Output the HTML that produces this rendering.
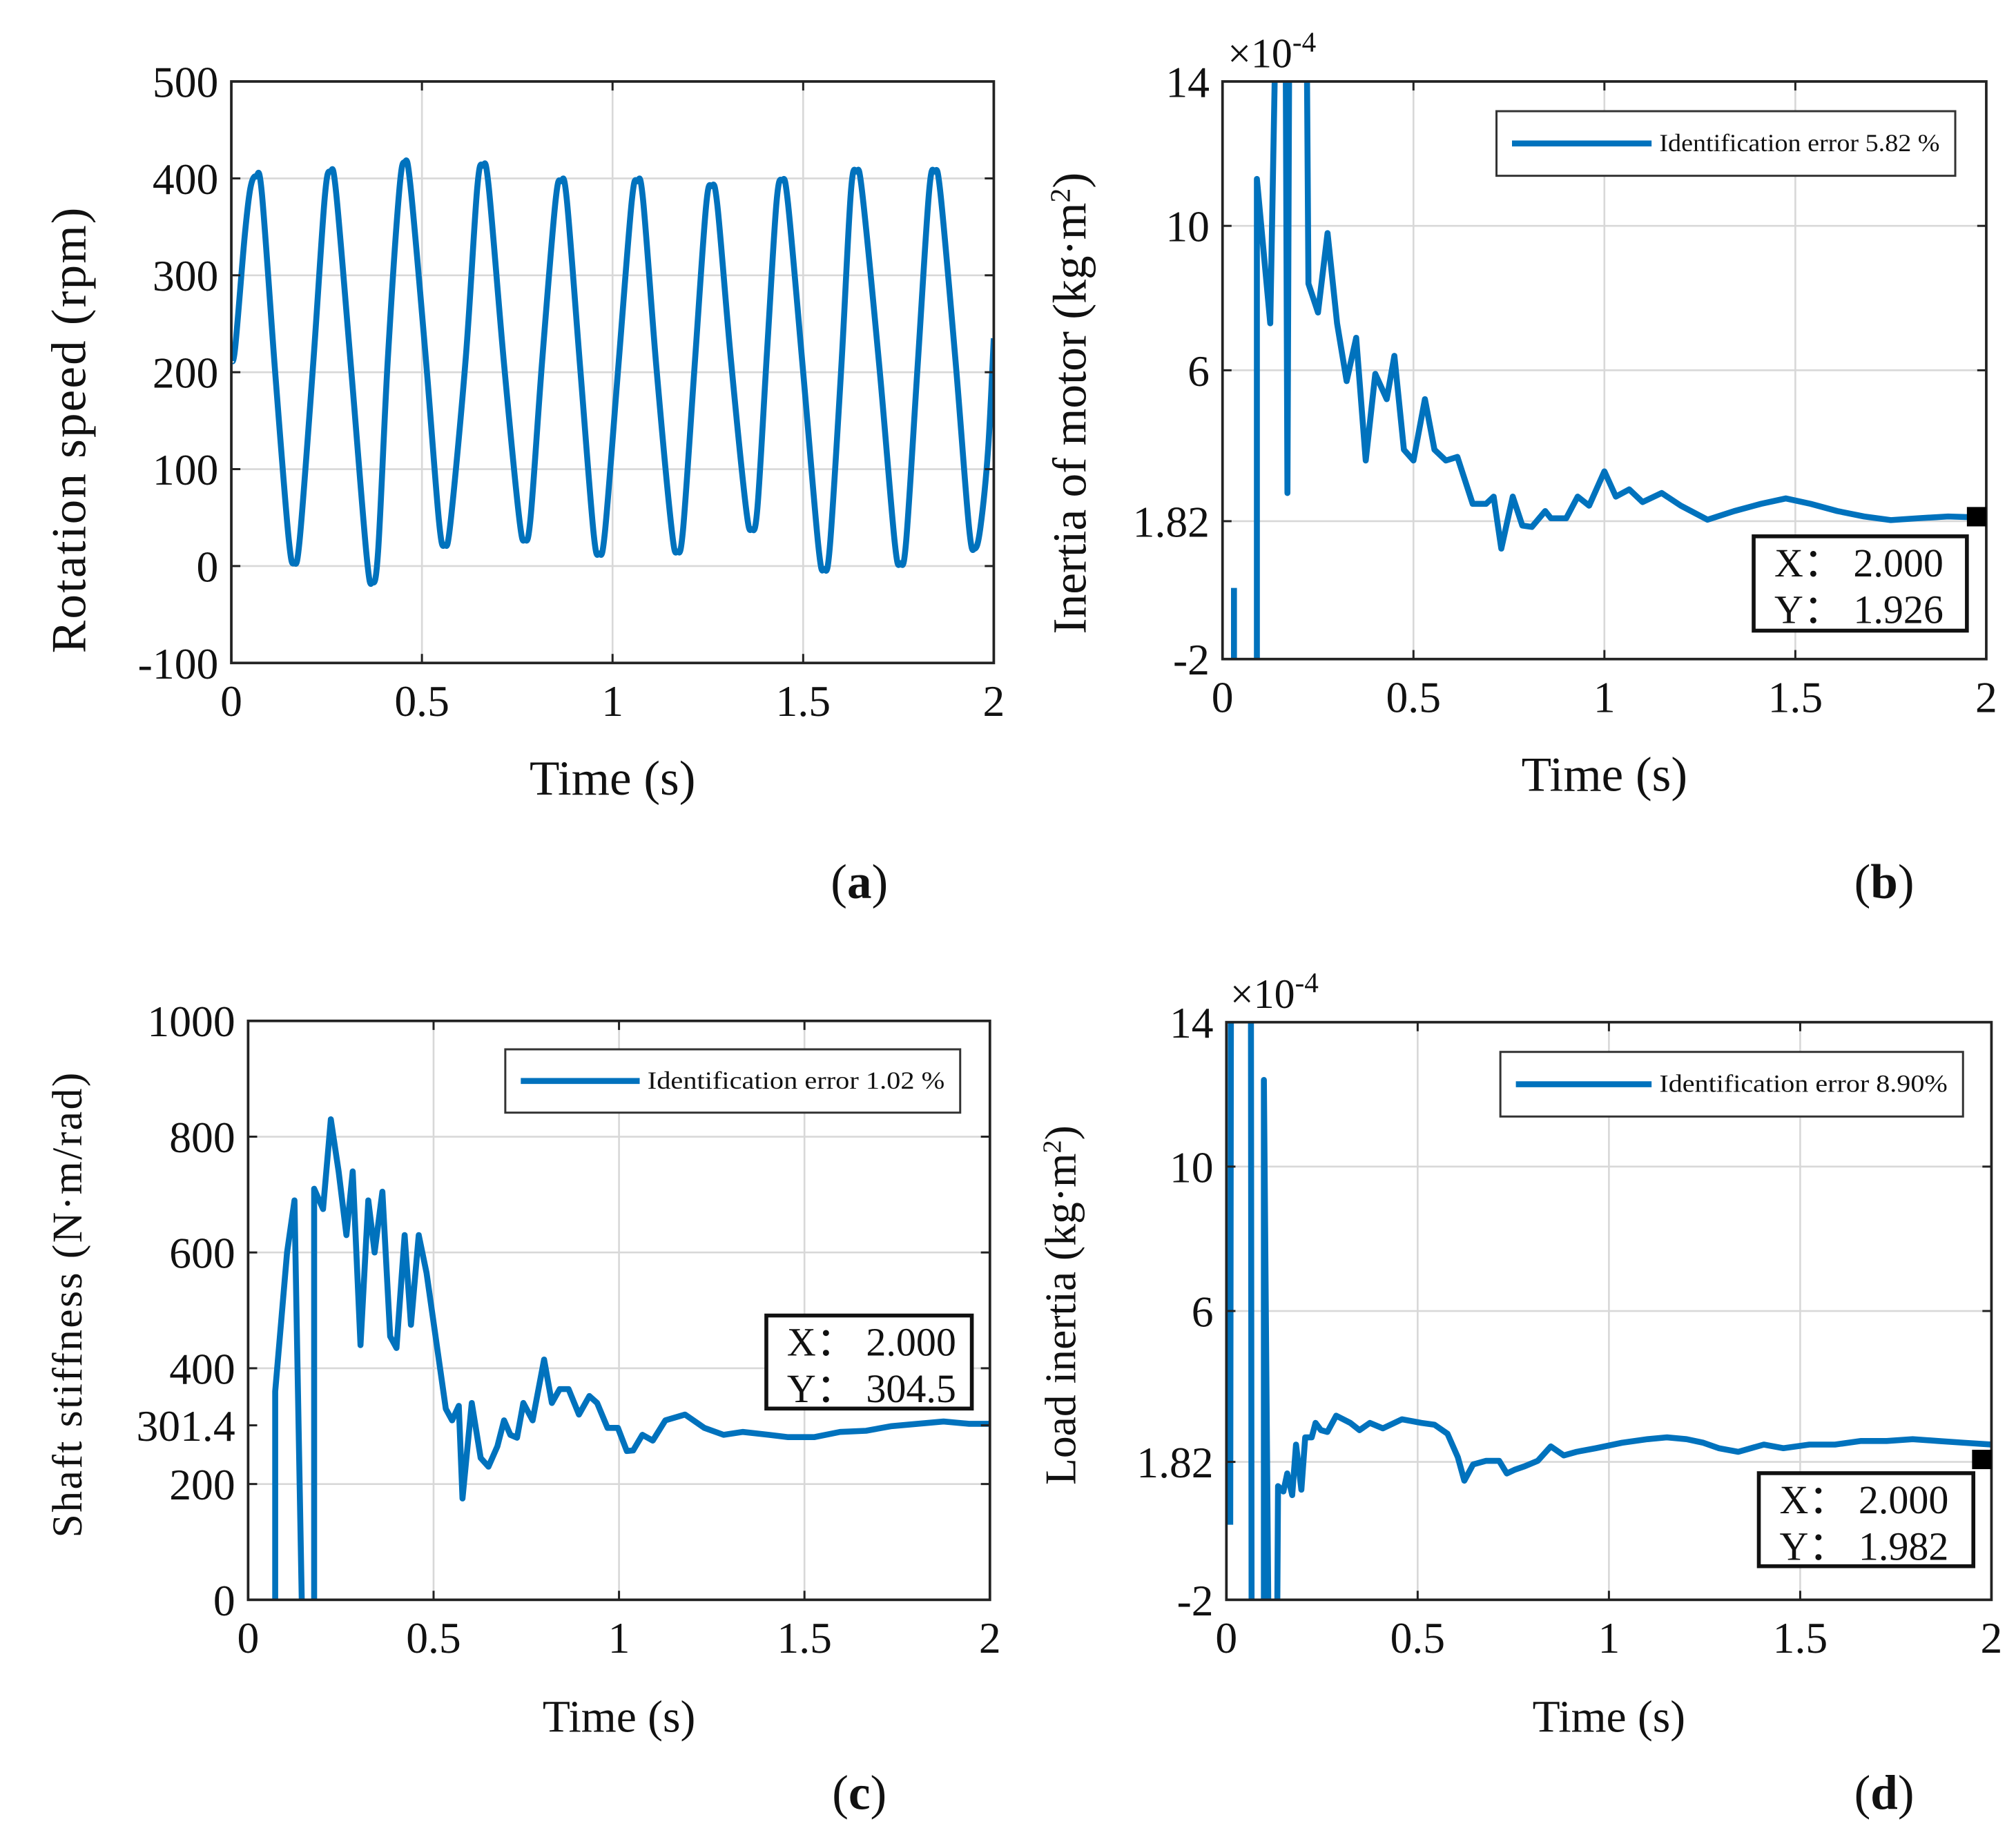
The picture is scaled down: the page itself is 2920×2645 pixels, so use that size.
<!DOCTYPE html>
<html><head><meta charset="utf-8"><style>
html,body{margin:0;padding:0;background:#fff}
svg{display:block}
text{font-family:"Liberation Serif",serif;fill:#111}
</style></head><body>
<svg id="fig" width="2920" height="2645" viewBox="0 0 1560 1413" xmlns="http://www.w3.org/2000/svg"></svg>
<script>
// ---- Panel (a) data ----
const aTime=[0,0.01,0.035,0.05,0.065,0.08,0.115,0.15,0.165,0.18,0.215,0.245,0.26,0.275,0.315,0.355,0.37,0.385,0.41,0.44,0.455,0.47,0.51,0.545,0.56,0.575,0.615,0.645,0.66,0.675,0.715,0.755,0.77,0.785,0.815,0.85,0.865,0.88,0.915,0.95,0.965,0.98,1.015,1.05,1.065,1.08,1.115,1.155,1.17,1.185,1.215,1.245,1.26,1.275,1.31,1.35,1.365,1.38,1.405,1.43,1.445,1.46,1.5,1.54,1.555,1.57,1.6,1.625,1.64,1.655,1.7,1.74,1.755,1.77,1.8,1.83,1.845,1.86,1.9,1.935,1.95,1.965,1.985,2.0];
const aSpeed=[212,225,340,390,402,385,200,30,3,30,210,380,407,385,200,10,-17,15,210,385,417,392,215,45,22,45,215,390,413,392,210,50,27,50,210,375,397,378,205,35,13,35,205,375,397,378,205,38,15,38,205,370,392,372,215,60,38,60,220,375,398,375,200,20,-3,20,205,385,407,385,205,25,3,25,205,385,407,385,210,40,18,40,120,235];
// ---- Panel (b) data ----
const bTime=[0.03,0.03,0.09,0.09,0.125,0.14,0.165,0.17,0.175,0.22,0.225,0.25,0.275,0.3,0.325,0.35,0.375,0.4,0.43,0.45,0.475,0.5,0.53,0.555,0.585,0.615,0.655,0.69,0.71,0.73,0.76,0.785,0.81,0.845,0.86,0.9,0.93,0.96,1.0,1.03,1.065,1.1,1.15,1.2,1.27,1.34,1.41,1.475,1.54,1.61,1.68,1.75,1.82,1.9,1.96,2.0];
const bInertia=[-0.03,-4,-4,11.3,7.3,16,16,2.6,16,16,8.4,7.6,9.8,7.3,5.7,6.9,3.5,5.9,5.2,6.4,3.8,3.5,5.2,3.8,3.5,3.6,2.3,2.3,2.5,1.06,2.5,1.7,1.66,2.1,1.9,1.9,2.5,2.25,3.2,2.5,2.7,2.35,2.6,2.25,1.86,2.1,2.3,2.45,2.3,2.1,1.95,1.85,1.9,1.95,1.93,2.0];
// ---- Panel (c) data ----
const cTime=[0.073,0.073,0.105,0.125,0.146,0.167,0.178,0.178,0.202,0.223,0.244,0.265,0.282,0.303,0.324,0.341,0.362,0.383,0.4,0.422,0.439,0.46,0.481,0.533,0.55,0.568,0.578,0.603,0.627,0.648,0.672,0.69,0.707,0.725,0.742,0.767,0.798,0.819,0.84,0.864,0.892,0.92,0.941,0.969,0.997,1.021,1.038,1.063,1.091,1.125,1.178,1.23,1.282,1.334,1.404,1.456,1.526,1.596,1.666,1.735,1.805,1.875,1.944,2.0];
const cStiff=[-50,360,600,690,-50,-50,-50,710,675,830,740,630,740,440,690,600,705,455,435,630,475,630,565,330,310,335,175,340,245,230,265,310,285,280,340,310,415,340,364,364,320,352,340,297,297,257,258,285,275,310,320,297,285,290,285,281,281,290,292,300,304,308,304,304];
// ---- Panel (d) data ----
const dTime=[0.01,0.012,0.064,0.066,0.098,0.098,0.111,0.132,0.135,0.149,0.159,0.172,0.182,0.196,0.206,0.223,0.233,0.247,0.264,0.287,0.324,0.348,0.375,0.409,0.459,0.51,0.544,0.578,0.605,0.622,0.645,0.679,0.713,0.733,0.753,0.78,0.814,0.848,0.882,0.916,0.966,1.034,1.101,1.152,1.203,1.247,1.287,1.338,1.405,1.456,1.524,1.591,1.659,1.726,1.794,1.861,1.929,2.0];
const dInertia=[0.08,16,16,-4,-4,12.4,-4,-4,1.15,1.0,1.5,0.9,2.3,1.05,2.5,2.5,2.9,2.7,2.65,3.1,2.9,2.7,2.9,2.75,3.0,2.9,2.85,2.6,1.95,1.3,1.75,1.85,1.85,1.5,1.6,1.7,1.85,2.25,2.0,2.1,2.2,2.35,2.45,2.5,2.45,2.35,2.2,2.1,2.3,2.2,2.3,2.3,2.4,2.4,2.45,2.4,2.35,2.3];
// ticks
const xTicks=[0,0.5,1,1.5,2];
const xTickLabels=["0","0.5","1","1.5","2"];
const aYTicks=[-100,0,100,200,300,400,500];
const aYTickLabels=["-100","0","100","200","300","400","500"];
const bdYTicks=[-2,1.82,6,10,14];
const bdYTickLabels=["-2","1.82","6","10","14"];
const cYTicks=[0,200,301.4,400,600,800,1000];
const cYTickLabels=["0","200","301.4","400","600","800","1000"];
const cGrid=[0,200,400,600,800,1000];

const NS="http://www.w3.org/2000/svg";
const svg=document.getElementById('fig');
function el(tag,attrs,parent,txt){const e=document.createElementNS(NS,tag);for(const k in attrs)e.setAttribute(k,attrs[k]);if(txt!==undefined)e.textContent=txt;(parent||svg).appendChild(e);return e;}

function panel(id,box,ymin,ymax,xs,ys,yTicks,yLabels,grid,opt){
  const g=el('g',{},svg);
  
  
  const sx=t=>box.x0+(t-0)/(2-0)*(box.x1-box.x0);
  const sy=v=>box.y1-(v-ymin)/(ymax-ymin)*(box.y1-box.y0);
  const gg=el('g',{stroke:'#d8d8d8','stroke-width':1.4},g);
  
  
  xTicks.forEach(t=>{el('line',{x1:sx(t),x2:sx(t),y1:box.y0,y2:box.y1},gg);});
  grid.forEach(v=>{el('line',{x1:box.x0,x2:box.x1,y1:sy(v),y2:sy(v)},gg);});
  const cp=el('clipPath',{id:'clip'+id},g);
  el('rect',{x:box.x0,y:box.y0,width:box.x1-box.x0,height:box.y1-box.y0},cp);
  let d='';
  if(opt.smooth){
    const P=xs.map((t,i)=>[sx(t),sy(ys[i])]);
    d='M'+P[0][0]+','+P[0][1];
    for(let i=0;i<P.length-1;i++){
      const p0=P[Math.max(0,i-1)],p1=P[i],p2=P[i+1],p3=P[Math.min(P.length-1,i+2)];
      d+=' C'+(p1[0]+(p2[0]-p0[0])/6)+','+(p1[1]+(p2[1]-p0[1])/6)+' '+(p2[0]-(p3[0]-p1[0])/6)+','+(p2[1]-(p3[1]-p1[1])/6)+' '+p2[0]+','+p2[1];
    }
  } else {
    d=xs.map((t,i)=>(i?'L':'M')+sx(t)+','+sy(ys[i])).join(' ');
  }
  const line=el('path',{d:d,fill:'none',stroke:'#0072BD','stroke-width':4.6,'stroke-linejoin':'round','clip-path':'url(#clip'+id+')'},g);
  
  
  const ax=el('rect',{x:box.x0,y:box.y0,width:box.x1-box.x0,height:box.y1-box.y0,fill:'none',stroke:'#222','stroke-width':2},g);
  
  
  const tk=el('g',{stroke:'#222','stroke-width':1.6},g);
  xTicks.forEach(t=>{el('line',{x1:sx(t),x2:sx(t),y1:box.y1,y2:box.y1-7},tk);el('line',{x1:sx(t),x2:sx(t),y1:box.y0,y2:box.y0+7},tk);});
  yTicks.forEach(v=>{el('line',{x1:box.x0,x2:box.x0+7,y1:sy(v),y2:sy(v)},tk);el('line',{x1:box.x1,x2:box.x1-7,y1:sy(v),y2:sy(v)},tk);});
  xTicks.forEach((t,i)=>{const tx=el('text',{x:sx(t),y:box.y1+41,'text-anchor':'middle','font-size':34},g,xTickLabels[i]);
    
    });
  yTicks.forEach((v,i)=>{const tx=el('text',{x:box.x0-10,y:sy(v)+12,'text-anchor':'end','font-size':34},g,yLabels[i]);
    
    });
  const xt=el('text',{x:(box.x0+box.x1)/2,y:box.y1+102,'text-anchor':'middle','font-size':opt.xtSize},g,'Time (s)');
  
  
  return {g,sx,sy};
}

function ylabel(x,y,size,main,sup,tail,name){
  const t=el('text',{transform:'translate('+x+','+y+') rotate(-90)','text-anchor':'middle','font-size':size},svg);
  
  
  el('tspan',{},t,main);
  if(sup){el('tspan',{'baseline-shift':'super','font-size':size*0.6},t,sup);el('tspan',{},t,tail);}
  return t;
}
function legend(x0,y0,x1,y1,label,lineEnd,name){
  const g=el('g',{},svg);
  
  
  el('rect',{x:x0,y:y0,width:x1-x0,height:y1-y0,fill:'#fff',stroke:'#333','stroke-width':1.6},g);
  const ym=(y0+y1)/2;
  el('line',{x1:x0+12,x2:lineEnd,y1:ym,y2:ym,stroke:'#0072BD','stroke-width':4.6},g);
  const t=el('text',{x:lineEnd+6,y:ym+6,'font-size':19,textLength:x1-lineEnd-18,lengthAdjust:'spacingAndGlyphs'},g,label);
  
  
}
function datatip(x0,y0,x1,y1,xv,yv,mx,my,name,marker){
  const g=el('g',{},svg);
  
  
  el('rect',{x:x0,y:y0,width:x1-x0,height:y1-y0,fill:'#fff',stroke:'#111','stroke-width':3},g);
  el('text',{x:x0+16,y:y0+31,'font-size':31},g,'X：  '+xv);
  el('text',{x:x0+16,y:y0+67,'font-size':31},g,'Y：  '+yv);
  if(marker){
    const m=el('rect',{x:mx-8,y:my-8,width:15,height:15,fill:'#000'},g);
    
    
  }
}
function expo(x,y,name){
  const t=el('text',{x:x,y:y,'font-size':32},svg);
  
  
  el('tspan',{},t,'×10');
  el('tspan',{'baseline-shift':'super','font-size':22},t,'-4');
}
function tag(x,y,letter,name){
  const t=el('text',{x:x,y:y,'text-anchor':'middle','font-size':38},svg);
  
  
  el('tspan',{},t,'(');el('tspan',{'font-weight':'bold'},t,letter);el('tspan',{},t,')');
}

// Panel a
panel('a',{x0:179,x1:769,y0:63,y1:513},-100,500,aTime,aSpeed,aYTicks,aYTickLabels,aYTicks,{smooth:true,xtSize:38});
ylabel(66,333,38,'Rotation speed (rpm)',null,null,'y-axis-title-a').setAttribute('textLength',345);
tag(665,695,'a','panel-label-a');

// Panel b
const pb=panel('b',{x0:946,x1:1537,y0:63,y1:510},-2,14,bTime,bInertia,bdYTicks,bdYTickLabels,bdYTicks,{xtSize:38});
ylabel(840,312,37,'Inertia of motor (kg·m','2',')','y-axis-title-b');
expo(950,52,'y-exponent-b');
legend(1158,86,1513,136,'Identification error 5.82 %',1278,'legend-b');
datatip(1357,415,1522,488,'2.000','1.926',pb.sx(2)-7,pb.sy(1.926),'datatip-b',true);
tag(1458,695,'b','panel-label-b');

// Panel c
panel('c',{x0:192,x1:766,y0:790,y1:1238},0,1000,cTime,cStiff,cYTicks,cYTickLabels,cGrid,{xtSize:35});
ylabel(63,1010,33,'Shaft stiffness (N·m/rad)',null,null,'y-axis-title-c').setAttribute('textLength',360);
legend(391,812,743,861,'Identification error 1.02 %',495,'legend-c');
datatip(593,1018,752,1090,'2.000','304.5',0,0,'datatip-c',false);
tag(665,1400,'c','panel-label-c');

// Panel d
const pd=panel('d',{x0:949,x1:1541,y0:791,y1:1238},-2,14,dTime,dInertia,bdYTicks,bdYTickLabels,bdYTicks,{xtSize:35});
ylabel(832,1010,34,'Load inertia (kg·m','2',')','y-axis-title-d');
expo(952,780,'y-exponent-d');
legend(1161,814,1519,864,'Identification error 8.90%',1278,'legend-d');
datatip(1361,1140,1527,1212,'2.000','1.982',pd.sx(2)-7,pd.sy(1.87),'datatip-d',true);
tag(1458,1400,'d','panel-label-d');
</script>
</body></html>
